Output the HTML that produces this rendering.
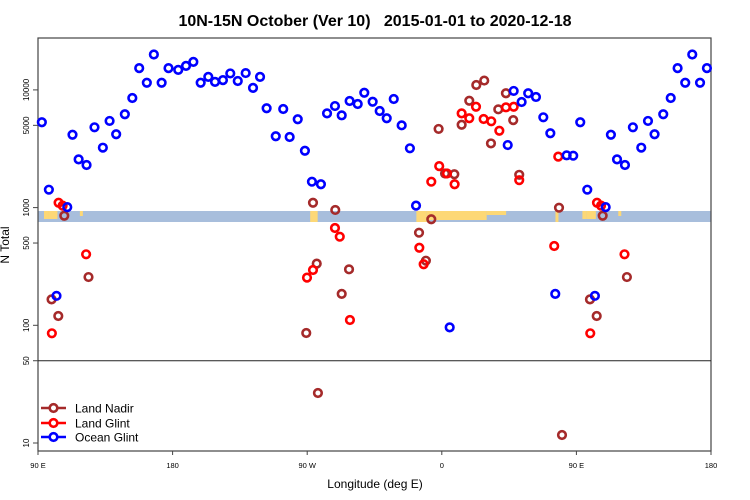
<!DOCTYPE html>
<html><head><meta charset="utf-8"><style>
body{margin:0;background:#fff}
svg{display:block;font-family:"Liberation Sans",sans-serif}
</style></head><body>
<svg id="c" width="750" height="500">
<text x="375" y="26" text-anchor="middle" font-size="16" font-weight="bold" style="white-space:pre">10N-15N October (Ver 10)&#160;&#160;&#160;2015-01-01 to 2020-12-18</text>
<text transform="translate(9,245) rotate(-90)" text-anchor="middle" font-size="12">N Total</text>
<text x="375" y="488" text-anchor="middle" font-size="12">Longitude (deg E)</text>
<g id="band"></g>
<g id="axes"></g>
<g id="pts"></g>
<g id="legend"></g>
</svg>
<script>
const yTicks=[10,50,100,500,1000,5000,10000];
const xTickLon=[90,180,270,360,450,540];
const xTickLabels=["90 E","180","90 W","0","90 E","180"];
const oceanLon=[-176.9,-171.7,-166.8,-161.9,-156.8,-152.3,-147.0,-142.1,-137.1,-131.8,-126.9,-122.2,-117.8,-111.7,-106.7,-102.4,-97.0,-92.2,-87.5,-81.5,-77.4,-72.1,-67.6,-62.3,-56.9,-52.5,-46.9,-42.2,-37.5,-32.8,-27.5,-22.0,-17.9,4.6,43.4,47.4,52.7,57.1,62.3,67.2,71.9,75.2,82.8,87.2,91.9,96.6,101.7,108.9,112.4,116.5,121.8,127.1,132.7,137.2,141.6,147.4,152.4,157.0,162.1,166.8,172.0,176.6];
const oceanVal=[14800,16000,17300,11500,12900,11700,12100,13800,11900,13900,10400,12900,6980,4040,6880,3980,5630,3040,1660,1580,6320,7290,6080,8050,7590,9460,7930,6620,5740,8370,5000,3190,1040,96,3400,9800,7890,9360,8710,5850,4280,185,2780,2760,5310,1420,178,1010,4160,2570,2300,4810,3230,5450,4200,6210,8530,15300,11500,20000,11500,15300];
const glintLon=[-90.8,-86.8,-72.1,-68.9,-62.1,-15.7,-12.8,-7.7,-2.4,2.8,7.9,12.6,17.7,22.2,27.3,32.4,37.8,42.2,47.4,51.1,74.5,77.2,103.1,105.8,121.5,98.6];
const glintVal=[254,295,671,566,111,456,330,1660,2250,1950,1580,6320,5740,7190,5660,5410,4500,7110,7190,1710,472,2710,1100,1040,401,85.5];
const nadirLon=[-91.3,-86.8,-84.3,-71.9,-67.6,-62.7,-83.5,79.7,-15.9,-11.3,-7.7,-2.8,1.5,7.7,12.6,17.7,22.4,27.7,32.2,37.1,42.2,47.1,51.1,77.7,98.4,102.9,106.9,123.1];
const nadirVal=[86,1100,334,955,185,299,26.6,11.7,612,354,796,4660,1950,1920,5060,8090,11000,12000,3510,6840,9360,5540,1900,998,166,120,853,257];
const X0=38,X1=711,Y0=38,Y1=451;
const xs=l=>X0+(l-90)*(X1-X0)/450;
const ys=v=>443-(Math.log10(v)-1)*117.7;
const NS='http://www.w3.org/2000/svg';
function mk(t,a,p){const e=document.createElementNS(NS,t);for(const k in a)e.setAttribute(k,a[k]);p.appendChild(e);return e;}
const axes=document.getElementById('axes');
const band=document.getElementById('band');
mk('rect',{x:X0,y:211,width:X1-X0,height:11,fill:'#a8bedc'},band);
const land=[[94,97,8],[-88,-83,11],[-17,-10,11],[-10,30,9],[30,43,4],[76,78,11],[97,103,8],[118,120,5]];
land.forEach(([a,b,h])=>{
 const e0=a<0?a+360:a;
 [e0,e0+360].forEach(e=>{
  if(e>=90&&e<=540){const r=mk('rect',{x:xs(e),y:211,width:(b-a)*1.4956,height:h,fill:'#fdd876'},band);
  
  }
 });
});
const fr=mk('rect',{x:X0,y:Y0,width:X1-X0,height:Y1-Y0,fill:'none',stroke:'#444','stroke-width':1.2},axes);


mk('line',{x1:X0,x2:X1,y1:ys(50),y2:ys(50),stroke:'#222','stroke-width':1},axes);
yTicks.forEach(v=>{
 const y=ys(v);
 mk('line',{x1:X0-5,x2:X0,y1:y,y2:y,stroke:'#444'},axes);
 const t=mk('text',{transform:`translate(29,${y}) rotate(-90)`,'text-anchor':'middle','font-size':8},axes);
 t.textContent=v;
 
 
});
xTickLon.forEach((l,i)=>{
 const x=xs(l);
 mk('line',{x1:x,x2:x,y1:Y1,y2:Y1+4,stroke:'#444'},axes);
 const t=mk('text',{x:x,y:468,'text-anchor':'middle','font-size':7.5},axes);
 t.textContent=xTickLabels[i];
 
 
});
const pts=document.getElementById('pts');
function draw(lons,vals,col,name){
 lons.forEach((l,i)=>{
  let e=l<0?l+360:l;
  [e,e+360].forEach(p=>{
   if(p<90||p>540)return;
   const c=mk('circle',{cx:xs(p)+1,cy:ys(vals[i]),r:3.8,fill:'none',stroke:col,'stroke-width':2.6},pts);
   
   
  });
 });
}
draw(nadirLon,nadirVal,'#a52a2a','land-nadir-point');
draw(glintLon,glintVal,'#ff0000','land-glint-point');
draw(oceanLon,oceanVal,'#0000ff','ocean-glint-point');
const lg=document.getElementById('legend');
[['Land Nadir','#a52a2a',408],['Land Glint','#ff0000',423],['Ocean Glint','#0000ff',437]].forEach(([n,c,y])=>{
 const g=mk('g',{},lg);
 
 
 mk('line',{x1:41,x2:66,y1:y,y2:y,stroke:c,'stroke-width':2.6},g);
 mk('circle',{cx:53.5,cy:y,r:3.8,fill:'#fff',stroke:c,'stroke-width':2.6},g);
 const t=mk('text',{x:75,y:y+4.5,'font-size':12},g);
 t.textContent=n;
});
</script>
</body></html>
